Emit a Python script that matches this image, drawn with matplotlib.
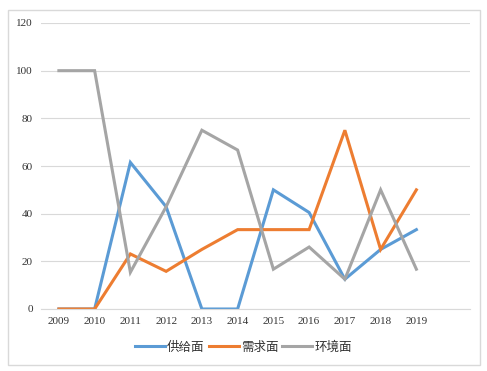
import matplotlib
matplotlib.use("Agg")
import matplotlib.pyplot as plt
from matplotlib.patches import Rectangle

years = ["2009", "2010", "2011", "2012", "2013", "2014", "2015", "2016", "2017", "2018", "2019"]
supply = [0, 0, 61.5, 42.9, 0, 0, 50, 40.5, 12.5, 25, 33.3]
demand = [0, 0, 23.1, 15.8, 25, 33.3, 33.3, 33.3, 75, 25, 50]
environment = [100, 100, 15.4, 42.9, 75, 66.7, 16.7, 26, 12.5, 50, 16.7]
series_names = ["供给面", "需求面", "环境面"]
yticks = [0, 20, 40, 60, 80, 100, 120]

fig = plt.figure(figsize=(4.87, 3.71), dpi=100)
fig.patches.append(Rectangle((8/487, 1-365/371), 472/487, 355/371, transform=fig.transFigure,
                             fill=False, edgecolor="#D9D9D9", linewidth=1))
ax = fig.add_axes([41/487, 1-309/371, 429/487, 286/371])

x = list(range(len(years)))
colors = ["#5B9BD5", "#ED7D31", "#A5A5A5"]
for vals, name, c in zip([supply, demand, environment], series_names, colors):
    ax.plot(x, vals, color=c, linewidth=2.2, label=name, solid_joinstyle="miter")

ax.set_xlim(-0.5, 11.5)
ax.set_ylim(0, 120)
ax.set_yticks(yticks)
ax.set_yticklabels([str(v) for v in yticks], fontfamily="Liberation Serif", fontsize=8, color="#333333")
ax.set_xticks(x)
ax.set_xticklabels(years, fontfamily="Liberation Serif", fontsize=8, color="#333333")
ax.tick_params(length=0, pad=6)
ax.grid(axis="y", color="#D9D9D9", linewidth=0.8)
ax.set_axisbelow(True)
for s in ["top", "right", "left"]:
    ax.spines[s].set_visible(False)
ax.spines["bottom"].set_color("#D9D9D9")

leg = fig.legend(loc="center", bbox_to_anchor=(0.5, 1-347/371), ncol=3, frameon=False,
                 prop={"family": ["Noto Sans CJK SC", "DejaVu Sans"], "size": 9},
                 handlelength=2.4, columnspacing=0.3, handletextpad=0.2)
for t in leg.get_texts():
    t.set_color("#333333")

fig.savefig("out.png", dpi=100)
